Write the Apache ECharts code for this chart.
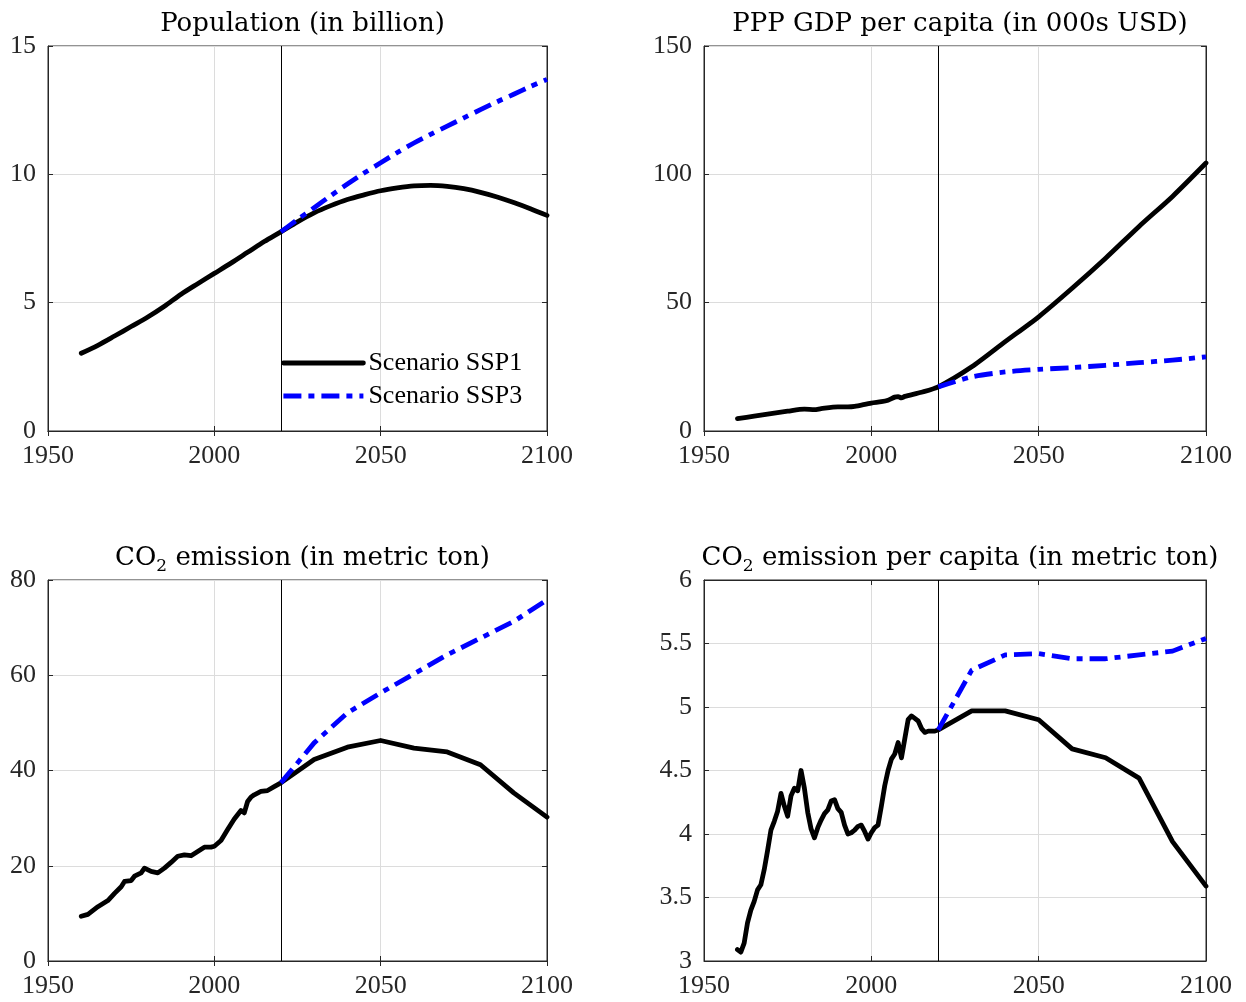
<!DOCTYPE html>
<html>
<head>
<meta charset="utf-8">
<script src="https://cdn.jsdelivr.net/npm/echarts@6/dist/echarts.min.js"></script>
<style>
html,body{margin:0;padding:0;background:#fff;}
#chart{width:1246px;height:1002px;}
</style>
</head>
<body>
<div id="chart"></div>
<script>
// ---------------- DATA ----------------
var xTicks = [1950, 2000, 2050, 2100];
var cutYear = 2020;
var titles = ['Population (in billion)', 'PPP GDP per capita (in 000s USD)', 'CO{s|2} emission (in metric ton)', 'CO{s|2} emission per capita (in metric ton)'];
var seriesNames = ['Scenario SSP1', 'Scenario SSP3'];

// Population (billion)
var popHistYears = [1960,1965,1970,1975,1980,1985,1990,1995,2000,2005,2010,2015,2020];
var popHist = [3.03,3.34,3.70,4.07,4.44,4.86,5.33,5.74,6.14,6.54,6.96,7.38,7.76];
var popProjYears = [2020,2025,2030,2035,2040,2045,2050,2055,2060,2065,2070,2075,2080,2085,2090,2095,2100];
var popSSP1 = [7.76,8.15,8.50,8.78,9.02,9.20,9.36,9.47,9.55,9.57,9.53,9.44,9.30,9.12,8.90,8.66,8.40];
var popSSP3 = [7.76,8.24,8.70,9.17,9.62,10.05,10.45,10.85,11.22,11.56,11.88,12.20,12.52,12.83,13.12,13.42,13.70];

// PPP GDP per capita (000s USD)
var gdpHistYears = [1960,1965,1970,1975,1980,1983,1985,1990,1993,1995,2000,2003,2005,2007,2008,2009,2010,2015,2020];
var gdpHist = [4.8,5.8,6.8,7.7,8.5,8.3,8.7,9.4,9.4,9.6,10.9,11.4,12.0,13.2,13.4,12.9,13.5,15.1,17.2];
var projYears = [2020,2030,2040,2050,2060,2070,2080,2090,2100];
var gdpSSP1 = [17.2,25.0,34.8,44.5,55.6,67.3,79.7,91.4,104.4];
var gdpSSP3 = [17.2,21.1,23.0,24.0,24.7,25.6,26.6,27.6,28.9];

// CO2 emission
var co2HistYears = [1960,1962,1965,1968,1970,1972,1973,1975,1976,1978,1979,1981,1983,1985,1987,1989,1991,1993,1995,1997,1999,2000,2002,2004,2006,2008,2009,2010,2011,2012,2014,2016,2018,2020];
var co2Hist = [9.4,9.8,11.4,12.7,14.2,15.6,16.7,16.9,17.8,18.5,19.5,18.8,18.5,19.5,20.7,22.0,22.3,22.1,23.0,23.9,23.9,24.1,25.3,27.6,29.8,31.6,31.1,33.5,34.4,34.9,35.6,35.8,36.6,37.4];
var co2SSP1 = [37.4,42.3,44.9,46.3,44.7,43.9,41.2,35.3,30.2];
var co2SSP3 = [37.4,45.8,52.1,56.3,60.3,64.3,67.8,71.3,75.8];

// CO2 emission per capita
var pcHistYears = [1960,1961,1962,1963,1964,1965,1966,1967,1968,1969,1970,1971,1972,1973,1974,1975,1976,1977,1978,1979,1980,1981,1982,1983,1984,1985,1986,1987,1988,1989,1990,1991,1992,1993,1994,1995,1996,1997,1998,1999,2000,2001,2002,2003,2004,2005,2006,2007,2008,2009,2010,2011,2012,2013,2014,2015,2016,2017,2018,2019,2020];
var pcHist = [3.09,3.07,3.14,3.30,3.40,3.47,3.56,3.60,3.72,3.87,4.03,4.10,4.18,4.32,4.22,4.14,4.30,4.36,4.34,4.50,4.36,4.17,4.04,3.97,4.05,4.11,4.16,4.19,4.26,4.27,4.20,4.17,4.07,4.00,4.01,4.03,4.06,4.07,4.02,3.96,4.01,4.05,4.07,4.22,4.38,4.50,4.59,4.63,4.72,4.60,4.75,4.90,4.93,4.91,4.89,4.83,4.80,4.81,4.81,4.81,4.82];
var pcSSP1 = [4.82,4.97,4.97,4.90,4.67,4.60,4.44,3.94,3.59];
var pcSSP3 = [4.82,5.29,5.41,5.42,5.38,5.38,5.41,5.44,5.54];

// y axis ranges
var yMin = [0, 0, 0, 3];
var yMax = [15, 150, 80, 6];
var yStep = [5, 50, 20, 0.5];

// ---------------- BUILD ----------------
function pairs(xs, ys) { return xs.map(function (x, i) { return [x, ys[i]]; }); }

var panels = [
  { hist: pairs(popHistYears, popHist), s1: pairs(popProjYears, popSSP1), s3: pairs(popProjYears, popSSP3), smooth: 0.3 },
  { hist: pairs(gdpHistYears, gdpHist), s1: pairs(projYears, gdpSSP1), s3: pairs(projYears, gdpSSP3), smooth: 0.25 },
  { hist: pairs(co2HistYears, co2Hist), s1: pairs(projYears, co2SSP1), s3: pairs(projYears, co2SSP3), smooth: false },
  { hist: pairs(pcHistYears, pcHist), s1: pairs(projYears, pcSSP1), s3: pairs(projYears, pcSSP3), smooth: false }
];

var grids = [
  { left: 48, top: 46, width: 499, height: 385 },
  { left: 704, top: 46, width: 502, height: 385 },
  { left: 48, top: 580, width: 499, height: 381 },
  { left: 704, top: 580, width: 502, height: 381 }
];

var FONT = 'Liberation Serif';
var TFONT = 'DejaVu Serif';
var AX = '#262626';
var GRIDC = '#dcdcdc';

var xAxes = [], yAxes = [], series = [], titleOpts = [];
grids.forEach(function (g, i) {
  g.show = true; g.borderColor = AX; g.borderWidth = 1; g.backgroundColor = '#fff';
  var xCommon = { type: 'value', gridIndex: i, min: xTicks[0], max: xTicks[xTicks.length - 1], interval: xTicks[1] - xTicks[0] };
  var yCommon = { type: 'value', gridIndex: i, min: yMin[i], max: yMax[i], interval: yStep[i] };
  xAxes.push(Object.assign({}, xCommon, {
    position: 'bottom',
    axisLine: { show: true, lineStyle: { color: AX, width: 1 } },
    axisTick: { show: true, inside: true, length: 5, lineStyle: { color: AX } },
    axisLabel: { color: AX, fontFamily: FONT, fontSize: 26, margin: 12, formatter: function (v) { return String(v); } },
    splitLine: { show: true, lineStyle: { color: GRIDC, width: 1 } }
  }));
  yAxes.push(Object.assign({}, yCommon, {
    position: 'left',
    axisLine: { show: true, lineStyle: { color: AX, width: 1 } },
    axisTick: { show: true, inside: true, length: 5, lineStyle: { color: AX } },
    axisLabel: { color: AX, fontFamily: FONT, fontSize: 26, margin: 12, formatter: function (v) { return String(v); } },
    splitLine: { show: true, lineStyle: { color: GRIDC, width: 1 } }
  }));
  var c = g.left + g.width / 2;
  titleOpts.push({
    text: titles[i], left: c, textAlign: 'center', top: g.top - 44,
    textStyle: { fontFamily: TFONT, fontSize: 26, fontWeight: 'normal', color: '#000', lineHeight: 34,
      rich: { s: { fontFamily: TFONT, fontSize: 17, lineHeight: 16, verticalAlign: 'bottom', color: '#000' } } }
  });
});
// mirror axes (top/right) for MATLAB-style box ticks
grids.forEach(function (g, i) {
  xAxes.push({ type: 'value', gridIndex: i, position: 'top', min: xTicks[0], max: xTicks[xTicks.length - 1], interval: xTicks[1] - xTicks[0],
    axisLine: { show: true, lineStyle: { color: AX } }, axisTick: { show: true, inside: true, length: 5, lineStyle: { color: AX } },
    axisLabel: { show: false }, splitLine: { show: false } });
  yAxes.push({ type: 'value', gridIndex: i, position: 'right', min: yMin[i], max: yMax[i], interval: yStep[i],
    axisLine: { show: true, lineStyle: { color: AX } }, axisTick: { show: true, inside: true, length: 5, lineStyle: { color: AX } },
    axisLabel: { show: false }, splitLine: { show: false } });
});

panels.forEach(function (p, i) {
  series.push({
    name: seriesNames[0], type: 'line', xAxisIndex: i, yAxisIndex: i, smooth: p.smooth,
    data: p.hist.concat(p.s1.slice(1)), symbol: 'none', showSymbol: false, animation: false, z: 3,
    lineStyle: { color: '#000', width: 4.8, type: 'solid', cap: 'round', join: 'round' },
    itemStyle: { color: '#000' },
    markLine: { silent: true, symbol: ['none', 'none'], label: { show: false }, animation: false, z: 1,
      lineStyle: { color: '#000', width: 1, type: 'solid' }, emphasis: { disabled: true },
      data: [{ xAxis: cutYear }] }
  });
  series.push({
    name: seriesNames[1], type: 'line', xAxisIndex: i, yAxisIndex: i, smooth: p.smooth,
    data: p.s3, symbol: 'none', showSymbol: false, animation: false, z: 4,
    lineStyle: { color: '#0000ff', width: 4.8, type: [18, 7, 6, 7], cap: 'butt', join: 'round' },
    itemStyle: { color: '#0000ff' }
  });
});

var option = {
  backgroundColor: '#fff',
  animation: false,
  title: titleOpts,
  grid: grids,
  xAxis: xAxes,
  yAxis: yAxes,
  legend: {
    data: seriesNames, orient: 'vertical', left: 281, top: 350, padding: 0,
    itemWidth: 80, itemHeight: 2, itemGap: 7,
    itemStyle: { opacity: 0 },
    lineStyle: { width: 4.8 },
    textStyle: { fontFamily: FONT, fontSize: 26, color: '#000' },
    selectedMode: false
  },
  series: series
};

var chart = echarts.init(document.getElementById('chart'), null, { renderer: 'canvas' });
chart.setOption(option);
</script>
</body>
</html>
